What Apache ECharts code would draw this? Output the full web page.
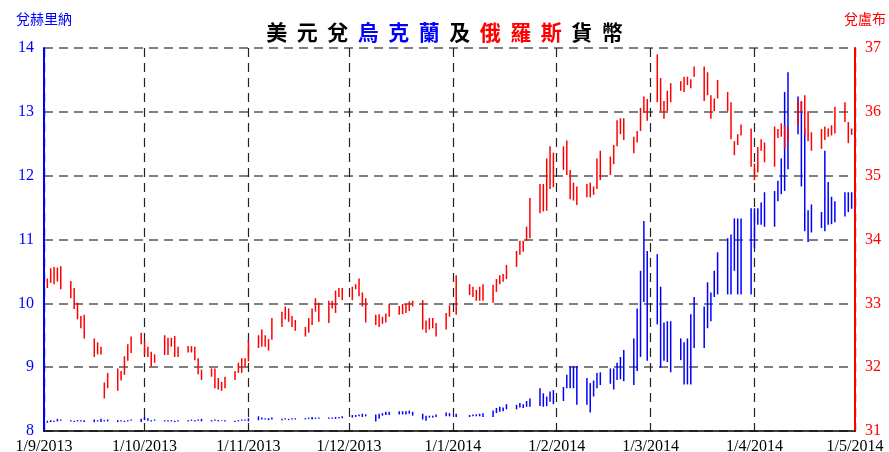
<!DOCTYPE html>
<html>
<head>
<meta charset="utf-8">
<script src="https://cdn.jsdelivr.net/npm/echarts@6/dist/echarts.min.js"></script>
<style>
html,body{margin:0;padding:0;background:#fff;}
#chart{width:889px;height:452px;}
</style>
</head>
<body>
<div id="chart"></div>
<script>
// Trading days: every weekday from first to last day shown
const firstTradingDay = [2013, 8, 2];   // 2 Sep 2013 (Mon)
const lastTradingDay  = [2014, 3, 30];  // 30 Apr 2014 (Wed)
const axisStart = [2013, 8, 1];
const axisEnd   = [2014, 4, 1];

// USD/RUB daily low / high (one value per weekday, null = no quote)
const rubleLow = [
  33.24,33.32,33.30,33.34,33.22,
  33.08,32.91,32.75,32.61,32.45,
  32.16,32.20,32.20,31.51,31.67,
  31.63,31.79,31.88,32.10,32.22,
  32.36,32.19,32.16,32.01,32.07,
  32.19,32.19,32.32,32.16,32.16,
  32.23,32.23,32.11,31.89,31.80,
  31.85,31.67,31.65,31.63,31.67,
  31.80,31.91,31.91,32.01,32.09,
  32.30,32.32,32.32,32.26,32.43,
  32.63,32.75,32.71,32.63,32.57,
  32.48,32.54,32.66,32.87,32.71,
  32.69,32.92,32.85,33.10,33.05,
  33.05,33.22,33.11,32.95,32.70,
  32.66,32.63,32.68,32.70,32.79,
  32.82,32.83,32.85,32.88,32.95,
  32.59,32.54,32.59,32.61,32.48,
  32.59,32.79,null,32.82,null,
  33.13,33.10,33.04,33.04,33.04,
  33.01,33.18,33.30,33.34,33.38,
  33.57,33.76,33.81,33.98,34.02,
  34.41,34.44,34.45,34.79,34.82,
  35.09,35.01,34.63,34.61,34.54,
  34.66,34.66,34.70,34.79,34.93,
  35.01,35.18,35.46,35.65,35.56,
  35.35,35.52,35.70,35.98,35.86,
  36.15,36.01,35.89,36.01,36.15,
  36.33,36.31,36.42,36.37,36.55,
  36.17,36.26,35.89,36.01,36.21,
  36.01,35.57,35.32,35.48,35.63,
  35.14,34.93,35.05,35.39,35.21,
  35.14,35.59,35.61,35.42,35.54,
  35.79,35.99,35.64,35.54,35.39,
  35.42,35.56,35.61,35.63,35.66,
  35.84,35.51,35.64
];
const rubleHigh = [
  33.39,33.55,33.57,33.56,33.58,
  33.35,33.24,33.01,32.80,32.82,
  32.45,32.39,32.32,31.76,31.91,
  31.98,31.94,32.17,32.36,32.48,
  32.54,32.41,32.32,32.24,32.20,
  32.50,32.46,32.46,32.49,32.32,
  32.33,32.33,32.32,32.14,31.96,
  31.98,31.98,31.83,31.77,31.85,
  31.94,32.07,32.14,32.14,32.43,
  32.50,32.59,32.50,32.44,32.77,
  32.87,32.95,32.92,32.80,32.74,
  32.63,32.77,32.92,33.08,33.01,
  33.04,33.04,33.20,33.24,33.24,
  33.26,33.30,33.39,33.17,33.08,
  32.82,32.83,32.79,32.84,32.99,
  32.96,32.99,32.99,33.03,33.04,
  33.05,32.73,32.77,32.77,32.69,
  32.85,32.97,null,33.44,null,
  33.30,33.26,33.21,33.26,33.30,
  33.29,33.38,33.44,33.46,33.60,
  33.82,33.98,33.98,34.20,34.65,
  34.87,34.87,35.27,35.46,35.36,
  35.46,35.55,35.09,34.89,34.83,
  34.87,34.89,34.83,35.27,35.39,
  35.30,35.48,35.87,35.90,35.90,
  35.61,35.70,36.06,36.24,36.20,
  36.90,36.53,36.17,36.33,36.45,
  36.48,36.55,36.55,36.51,36.71,
  36.71,36.62,36.26,36.21,36.50,
  36.31,36.15,35.54,35.65,35.80,
  35.74,35.19,35.45,35.57,35.52,
  35.77,35.73,35.82,35.79,35.73,
  36.19,36.17,36.26,36.01,35.68,
  35.73,35.77,35.74,35.79,36.08,
  36.15,35.84,35.74
];

// USD/UAH daily low / high
const hryvniaLow = [
  8.13,8.14,8.14,8.15,8.16,
  8.15,8.14,8.15,8.15,8.14,
  8.14,8.15,8.14,8.15,8.15,
  8.14,8.15,8.14,8.15,8.16,
  8.14,8.17,8.16,8.15,8.16,
  8.15,8.15,8.15,8.14,8.15,
  8.15,8.16,8.15,8.16,8.15,
  8.15,8.16,8.15,8.16,8.15,
  8.14,8.15,8.16,8.16,8.15,
  8.17,8.18,8.18,8.17,8.18,
  8.17,8.18,8.17,8.18,8.18,
  8.18,8.19,8.18,8.19,8.19,
  8.19,8.19,8.19,8.20,8.20,
  8.21,8.22,8.23,8.22,8.23,
  8.15,8.19,8.24,8.25,8.25,
  8.26,8.26,8.26,8.27,8.24,
  8.18,8.16,8.21,8.21,8.22,
  8.23,8.23,null,8.22,null,
  8.22,8.23,8.23,8.23,8.22,
  8.22,8.28,8.30,8.31,8.34,
  8.34,8.37,8.36,8.38,8.38,
  8.39,8.38,8.39,8.46,8.42,
  8.47,8.67,8.67,8.67,8.41,
  8.41,8.29,8.54,8.67,8.72,
  8.74,8.65,8.80,8.81,8.78,
  8.72,8.94,9.16,10.02,9.10,
  9.67,8.99,9.10,9.08,8.92,
  9.11,8.73,8.73,8.73,9.30,
  9.30,9.61,9.72,10.10,10.14,
  10.14,10.14,10.51,10.14,10.14,
  10.14,10.87,11.23,11.23,11.20,
  11.20,11.60,11.71,11.76,12.10,
  12.65,11.83,11.13,10.96,11.11,
  11.18,11.13,11.23,11.24,11.27,
  11.36,11.43,11.48
];
const hryvniaHigh = [
  8.16,8.17,8.16,8.19,8.18,
  8.17,8.16,8.17,8.17,8.17,
  8.18,8.17,8.19,8.17,8.18,
  8.17,8.17,8.16,8.17,8.18,
  8.19,8.22,8.20,8.17,8.18,
  8.17,8.17,8.17,8.16,8.17,
  8.17,8.18,8.17,8.18,8.19,
  8.17,8.18,8.17,8.17,8.17,
  8.16,8.17,8.18,8.18,8.20,
  8.23,8.21,8.20,8.20,8.21,
  8.19,8.20,8.19,8.20,8.20,
  8.20,8.21,8.22,8.21,8.21,
  8.21,8.21,8.22,8.22,8.23,
  8.25,8.25,8.26,8.27,8.26,
  8.26,8.27,8.28,8.30,8.30,
  8.31,8.31,8.31,8.32,8.30,
  8.27,8.24,8.24,8.24,8.26,
  8.29,8.28,null,8.27,null,
  8.25,8.26,8.26,8.27,8.28,
  8.32,8.36,8.38,8.37,8.42,
  8.41,8.44,8.42,8.47,8.51,
  8.67,8.59,8.54,8.62,8.64,
  8.69,8.88,9.02,9.02,9.02,
  8.83,8.75,8.79,8.91,8.92,
  8.98,8.98,9.07,9.16,9.27,
  9.45,9.92,10.51,11.29,10.82,
  10.77,10.26,9.70,9.72,9.72,
  9.45,9.39,9.45,9.83,10.10,
  9.95,10.33,10.17,10.51,10.80,
  11.02,11.08,11.33,11.33,11.33,
  11.49,11.49,11.49,11.58,11.74,
  11.76,11.92,12.27,13.31,13.62,
  13.24,13.16,12.74,11.46,11.55,
  11.43,12.39,11.90,11.67,11.60,
  11.74,11.74,11.74
];

const titleParts = [
  { text: '美元兌', style: 'k' },
  { text: '烏克蘭', style: 'b' },
  { text: '及', style: 'k' },
  { text: '俄羅斯', style: 'r' },
  { text: '貨幣', style: 'k' }
];
const leftAxisName = '兌赫里納';
const rightAxisName = '兌盧布';

// ---- build date list (weekdays) ----
const tradingDays = [];
(function () {
  const d = new Date(firstTradingDay[0], firstTradingDay[1], firstTradingDay[2]);
  const end = new Date(lastTradingDay[0], lastTradingDay[1], lastTradingDay[2]).getTime();
  while (d.getTime() <= end) {
    const wd = d.getDay();
    if (wd !== 0 && wd !== 6) tradingDays.push(d.getTime());
    d.setDate(d.getDate() + 1);
  }
})();

function pairs(lo, hi) {
  const out = [];
  for (let i = 0; i < tradingDays.length; i++) {
    if (lo[i] == null || hi[i] == null) continue;
    out.push([tradingDays[i], lo[i], hi[i]]);
  }
  return out;
}

function renderHL(params, api) {
  const t = api.value(0);
  const p1 = api.coord([t, api.value(1)]);
  const p2 = api.coord([t, api.value(2)]);
  return {
    type: 'line',
    shape: { x1: p1[0], y1: p1[1], x2: p2[0], y2: p2[1] },
    style: { stroke: api.visual('color'), lineWidth: 1.5 }
  };
}

const titleText = titleParts.map(p => Array.from(p.text).map(ch => '{' + p.style + '|' + ch + '}').join('')).join('');
const titleCharStyle = (c) => ({ color: c, fontSize: 21, fontWeight: 'bold', fontFamily: 'Noto Sans CJK TC', width: 30.5, align: 'center' });

const serif = 'Liberation Serif';
const fmt = (v) => { const d = new Date(v); return d.getDate() + '/' + (d.getMonth() + 1) + '/' + d.getFullYear(); };

const chart = echarts.init(document.getElementById('chart'), null, { renderer: 'canvas' });
chart.setOption({
  animation: false,
  backgroundColor: '#ffffff',
  title: {
    left: 'center',
    top: 17,
    text: titleText,
    textStyle: {
      rich: { k: titleCharStyle('#000000'), b: titleCharStyle('#0000ff'), r: titleCharStyle('#ff0000') }
    }
  },
  grid: { left: 44, right: 34, top: 48, bottom: 21, containLabel: false, outerBoundsMode: 'none' },
  xAxis: {
    type: 'time',
    min: new Date(axisStart[0], axisStart[1], axisStart[2]).getTime(),
    max: new Date(axisEnd[0], axisEnd[1], axisEnd[2]).getTime(),
    splitNumber: 8,
    axisLine: { show: true, lineStyle: { color: '#000', width: 1.5 } },
    axisTick: { show: false },
    axisLabel: { formatter: fmt, color: '#000', fontFamily: serif, fontSize: 16, margin: 8, showMinLabel: true, showMaxLabel: true, hideOverlap: false },
    splitLine: { show: true, lineStyle: { color: '#222', width: 1.2, type: [9, 6] } }
  },
  yAxis: [
    {
      type: 'value', min: 8, max: 14, interval: 1, position: 'left',
      name: leftAxisName, nameLocation: 'end', nameGap: 29,
      nameTextStyle: { color: '#0000ff', fontSize: 14, fontFamily: 'Noto Sans CJK TC', align: 'center', verticalAlign: 'middle' },
      axisLine: { show: true, lineStyle: { color: '#0000ff', width: 2 } },
      axisTick: { show: false },
      axisLabel: { color: '#0000ff', fontFamily: serif, fontSize: 16, margin: 10 },
      splitLine: { show: true, lineStyle: { color: '#555', width: 1.6, type: [9, 6] } }
    },
    {
      type: 'value', min: 31, max: 37, interval: 1, position: 'right',
      name: rightAxisName, nameLocation: 'end', nameGap: 29,
      nameTextStyle: { color: '#ff0000', fontSize: 14, fontFamily: 'Noto Sans CJK TC', align: 'center', verticalAlign: 'middle', padding: [0, 0, 0, 20] },
      axisLine: { show: true, lineStyle: { color: '#ff0000', width: 2 } },
      axisTick: { show: false },
      axisLabel: { color: '#ff0000', fontFamily: serif, fontSize: 16, margin: 10 },
      splitLine: { show: false }
    }
  ],
  series: [
    {
      name: '兌赫里納', type: 'custom', yAxisIndex: 0, renderItem: renderHL,
      itemStyle: { color: '#0000ff' }, encode: { x: 0, y: [1, 2] },
      data: pairs(hryvniaLow, hryvniaHigh)
    },
    {
      name: '兌盧布', type: 'custom', yAxisIndex: 1, renderItem: renderHL,
      itemStyle: { color: '#ff0000' }, encode: { x: 0, y: [1, 2] },
      data: pairs(rubleLow, rubleHigh)
    }
  ]
});
</script>
</body>
</html>
